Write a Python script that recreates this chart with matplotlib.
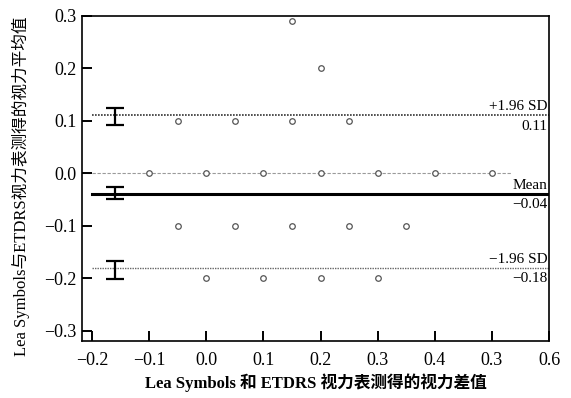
import matplotlib
matplotlib.use('Agg')
import matplotlib.pyplot as plt

# Bland-Altman 散点
x_vals = [0.15, 0.2,
          -0.05, 0.05, 0.15, 0.25,
          -0.1, 0.0, 0.1, 0.2, 0.3, 0.4, 0.5,
          -0.05, 0.05, 0.15, 0.25, 0.35,
          0.0, 0.1, 0.2, 0.3]
y_vals = [0.29, 0.2,
          0.1, 0.1, 0.1, 0.1,
          0.0, 0.0, 0.0, 0.0, 0.0, 0.0, 0.0,
          -0.1, -0.1, -0.1, -0.1, -0.1,
          -0.2, -0.2, -0.2, -0.2]

# 一致性界限: +1.96 SD, Mean, -1.96 SD
limit_names = ['+1.96 SD', 'Mean', '\u22121.96 SD']
limit_vals = [0.11, -0.04, -0.18]
ci_low = [0.092, -0.050, -0.201]
ci_high = [0.124, -0.027, -0.168]
ci_x = -0.16

x_ticks = [-0.2, -0.1, 0.0, 0.1, 0.2, 0.3, 0.4, 0.5, 0.6]
x_ticklabels = ['\u22120.2', '\u22120.1', '0.0', '0.1', '0.2', '0.3', '0.4', '0.3', '0.6']
y_ticks = [0.3, 0.2, 0.1, 0.0, -0.1, -0.2, -0.3]
y_ticklabels = ['0.3', '0.2', '0.1', '0.0', '\u22120.1', '\u22120.2', '\u22120.3']

xlabel = 'Lea Symbols 和 ETDRS 视力表测得的视力差值'
ylabel = 'Lea Symbols与ETDRS视力表测得的视力平均值'

fonts = ['Liberation Serif', 'Noto Sans CJK SC', 'DejaVu Sans']
plt.rcParams['font.family'] = fonts

fig = plt.figure(figsize=(5.71, 3.98), dpi=100)
ax = fig.add_axes([0.1436, 0.1432, 0.8179, 0.8174])
ax.set_xlim(-0.2175, 0.6)
ax.set_ylim(-0.3196, 0.3)

# 零线
ax.plot([-0.2175, 0.535], [0, 0], color='#9a9a9a', lw=0.8, ls=(0, (3, 1.5)), zorder=1)

# 界限线
styles = [dict(color='#333333', lw=1.2, ls=(0, (1, 0.8))),
          dict(color='black', lw=2.2, ls='-'),
          dict(color='#666666', lw=1.0, ls=(0, (1, 0.8)))]
for name, val, st in zip(limit_names, limit_vals, styles):
    ax.plot([-0.2, 0.6], [val, val], zorder=2, **st)
    ax.text(0.598, val + 0.004, name, ha='right', va='bottom', fontsize=11)
    ax.text(0.598, val - 0.008, f'{val:.2f}'.replace('-', '\u2212'),
            ha='right', va='top', fontsize=11)

# 置信区间
for lo, hi in zip(ci_low, ci_high):
    ax.errorbar([ci_x], [(lo + hi) / 2], yerr=[[(lo + hi) / 2 - lo], [hi - (lo + hi) / 2]],
                fmt='none', ecolor='black', elinewidth=1.6, capsize=6.5, capthick=1.6, zorder=3)

ax.plot(x_vals, y_vals, 'o', ms=4, mfc='white', mec='#555555', mew=0.9, zorder=4)

ax.set_xticks(x_ticks)
ax.set_xticklabels(x_ticklabels)
ax.set_yticks(y_ticks)
ax.set_yticklabels(y_ticklabels)
ax.tick_params(axis='both', direction='in', length=7.2, width=1.4, labelsize=13, color='black')
ax.tick_params(axis='x', pad=8)
ax.tick_params(axis='y', pad=4)
for sp in ax.spines.values():
    sp.set_linewidth(1.2)

ax.set_xlabel(xlabel, fontsize=12, fontweight='bold', labelpad=3)
ax.set_ylabel(ylabel, fontsize=12)
ax.yaxis.set_label_coords(-0.112, 0.4765)

fig.savefig('out.png', dpi=100)
